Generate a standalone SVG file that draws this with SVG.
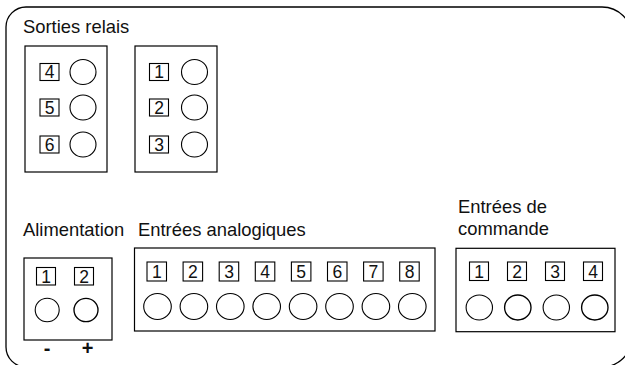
<svg xmlns="http://www.w3.org/2000/svg" width="625" height="365" viewBox="0 0 625 365">
<style>
.frame{fill:none;stroke:#000;stroke-width:1.3}
.box{fill:#fff;stroke:#000;stroke-width:1.2}
.sq{fill:#fff;stroke:#000;stroke-width:1.1}
.pin{fill:#fff;stroke:#000;stroke-width:1.1}
.pin.b{stroke-width:1.35}
.t{font-family:"Liberation Sans",Arial,sans-serif;font-size:18.4px;fill:#111}
.n{font-family:"Liberation Sans",Arial,sans-serif;font-size:17.5px;fill:#111;text-anchor:middle}
.s{font-family:"Liberation Sans",Arial,sans-serif;font-size:20px;font-weight:bold;fill:#111;text-anchor:middle}
</style>
<rect width="625" height="365" fill="#fff"/>
<path class="frame" d="M26,7 H602 A30,30 0 0 1 632,37 V337 A30,30 0 0 1 602,367 H26 A20,20 0 0 1 6,347 V27 A20,20 0 0 1 26,7 Z"/>
<g id="labels">
<text class="t" x="23" y="33">Sorties relais</text>
<text class="t" x="23" y="236">Alimentation</text>
<text class="t" x="138" y="236">Entrées analogiques</text>
<text class="t" x="458" y="213">Entrées de</text>
<text class="t" x="458" y="235">commande</text>
</g>
<g id="relais-4-6">
<rect class="box" x="25" y="46" width="82" height="126"/>
<rect class="sq" x="40" y="63.5" width="19" height="17"/><text class="n" x="49.5" y="78.3">4</text>
<rect class="sq" x="40" y="99" width="19" height="17"/><text class="n" x="49.5" y="113.8">5</text>
<rect class="sq" x="40" y="136" width="19" height="17"/><text class="n" x="49.5" y="150.8">6</text>
<ellipse class="pin" cx="83" cy="72" rx="13" ry="12.5"/>
<ellipse class="pin" cx="83" cy="107.5" rx="13" ry="12.5"/>
<ellipse class="pin" cx="83" cy="144.5" rx="13" ry="12.5"/>
</g>
<g id="relais-1-3">
<rect class="box" x="135" y="46" width="82" height="126"/>
<rect class="sq" x="149.5" y="63.5" width="19" height="17"/><text class="n" x="159" y="78.3">1</text>
<rect class="sq" x="149.5" y="99" width="19" height="17"/><text class="n" x="159" y="113.8">2</text>
<rect class="sq" x="149.5" y="136" width="19" height="17"/><text class="n" x="159" y="150.8">3</text>
<ellipse class="pin" cx="194.5" cy="72" rx="13" ry="12.5"/>
<ellipse class="pin" cx="194.5" cy="107.5" rx="13" ry="12.5"/>
<ellipse class="pin" cx="194.5" cy="144.5" rx="13" ry="12.5"/>
</g>
<g id="alimentation">
<rect class="box" x="24" y="258" width="88" height="82"/>
<rect class="sq" x="36.5" y="267.5" width="19" height="17.5"/><text class="n" x="46" y="282.5">1</text>
<rect class="sq" x="74.5" y="267.5" width="19" height="17.5"/><text class="n" x="84" y="282.5">2</text>
<ellipse class="pin" cx="47.2" cy="310" rx="12" ry="11.7"/>
<ellipse class="pin b" cx="86" cy="310" rx="12" ry="11.7"/>
<text class="s" x="47" y="355">-</text>
<text class="s" x="87.5" y="355">+</text>
</g>
<g id="entrees-analogiques">
<rect class="box" x="134.5" y="248" width="300.5" height="83"/>
<rect class="sq" x="147" y="262" width="19.5" height="19"/><text class="n" x="156.8" y="277.8">1</text>
<rect class="sq" x="183.1" y="262" width="19.5" height="19"/><text class="n" x="192.9" y="277.8">2</text>
<rect class="sq" x="219.2" y="262" width="19.5" height="19"/><text class="n" x="229" y="277.8">3</text>
<rect class="sq" x="255.3" y="262" width="19.5" height="19"/><text class="n" x="265.1" y="277.8">4</text>
<rect class="sq" x="291.4" y="262" width="19.5" height="19"/><text class="n" x="301.2" y="277.8">5</text>
<rect class="sq" x="327.5" y="262" width="19.5" height="19"/><text class="n" x="337.3" y="277.8">6</text>
<rect class="sq" x="363.6" y="262" width="19.5" height="19"/><text class="n" x="373.4" y="277.8">7</text>
<rect class="sq" x="399.7" y="262" width="19.5" height="19"/><text class="n" x="409.5" y="277.8">8</text>
<ellipse class="pin" cx="157.5" cy="306.5" rx="13.8" ry="13"/>
<ellipse class="pin" cx="193.9" cy="306.5" rx="13.8" ry="13"/>
<ellipse class="pin" cx="230.3" cy="306.5" rx="13.8" ry="13"/>
<ellipse class="pin" cx="266.7" cy="306.5" rx="13.8" ry="13"/>
<ellipse class="pin" cx="303.1" cy="306.5" rx="13.8" ry="13"/>
<ellipse class="pin" cx="339.5" cy="306.5" rx="13.8" ry="13"/>
<ellipse class="pin" cx="375.9" cy="306.5" rx="13.8" ry="13"/>
<ellipse class="pin" cx="412.3" cy="306.5" rx="13.8" ry="13"/>
</g>
<g id="entrees-commande">
<rect class="box" x="456" y="248.3" width="159" height="83.4"/>
<rect class="sq" x="469.5" y="262" width="19" height="18.5"/><text class="n" x="479" y="277.5">1</text>
<rect class="sq" x="507.5" y="262" width="19" height="18.5"/><text class="n" x="517" y="277.5">2</text>
<rect class="sq" x="545.5" y="262" width="19" height="18.5"/><text class="n" x="555" y="277.5">3</text>
<rect class="sq" x="583.5" y="262" width="19" height="18.5"/><text class="n" x="593" y="277.5">4</text>
<ellipse class="pin" cx="479.3" cy="307.5" rx="13.2" ry="12.5"/>
<ellipse class="pin b" cx="517.8" cy="307.5" rx="13.2" ry="12.5"/>
<ellipse class="pin" cx="556.3" cy="307.5" rx="13.2" ry="12.5"/>
<ellipse class="pin b" cx="594.8" cy="307.5" rx="13.2" ry="12.5"/>
</g>
<g id="connectors"/>
</svg>
